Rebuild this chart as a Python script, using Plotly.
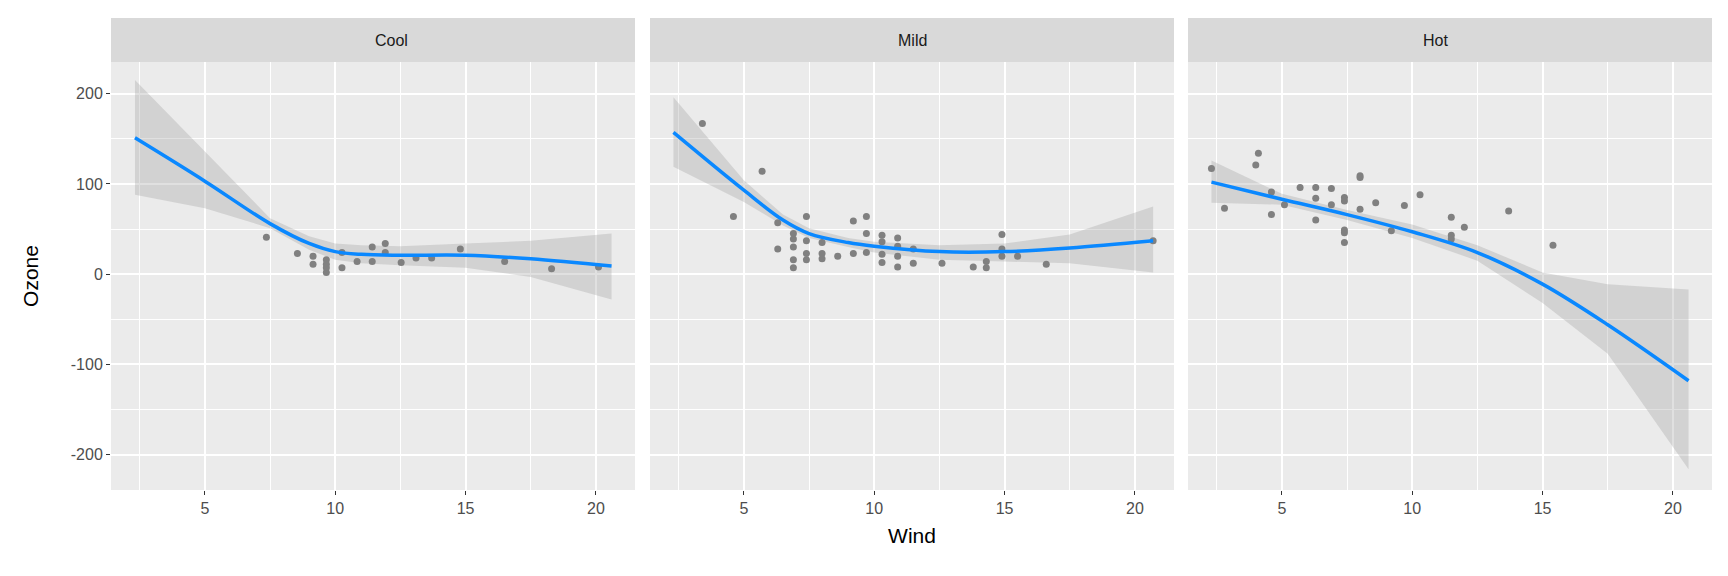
import plotly.graph_objects as go

panels = ["Cool", "Mild", "Hot"]

cool_wind = [7.36,8.55,9.15,9.15,9.66,9.66,9.66,9.66,10.26,10.26,10.84,11.42,11.42,11.92,11.92,12.53,13.1,13.7,14.8,16.5,18.3,20.1]
cool_ozone = [41,23,20,11,16,11,7,2,24,7,14,30,14,34,24,13,18,18,28,14,6,8]
mild_wind = [3.41,5.7,4.6,6.3,6.3,6.9,6.9,6.9,6.9,6.9,7.4,7.4,7.4,7.4,8.0,8.0,8.0,8.6,9.2,9.2,9.7,9.7,9.7,10.3,10.3,10.3,10.3,10.9,10.9,10.9,10.9,11.5,11.5,12.6,13.8,14.3,14.3,14.9,14.9,14.9,15.5,16.6,20.7]
mild_ozone = [167,114,64,57,28,45,39,30,16,7,64,37,23,16,35,23,17,20,59,23,64,45,24,43,36,22,13,40,31,20,8,28,12,12,8,14,7,44,28,20,20,11,37]
hot_wind = [2.3,2.8,4.0,4.1,4.6,4.6,5.1,5.7,6.3,6.3,6.3,6.9,6.9,7.4,7.4,7.4,7.4,7.4,8.0,8.0,8.0,8.6,9.2,9.7,10.3,11.5,11.5,11.5,12.0,13.7,15.4]
hot_ozone = [117,73,121,134,91,66,77,96,96,84,60,95,77,85,81,49,46,35,109,107,72,79,48,76,88,63,43,39,52,70,32]

cool_fit_x = [2.32,5,7.5,9,10,11,12.5,15,17.5,20.6]
cool_fit = [151,103,56,34,25,22,21,21,17,9]
cool_hi = [215,136,62,42,34,32,31,34,37,45]
cool_lo = [88,73,51,27,16,12,10,7,-3,-28]
mild_fit_x = [2.3,5,6.5,7.5,9,10,12.5,15,17.5,20.7]
mild_fit = [157,93,60,45,35,31,25,25,29,37]
mild_hi = [196,104,66,51,40,36,32,34,44,75]
mild_lo = [119,80,54,40,30,24,16,14,12,2]
hot_fit_x = [2.3,5,7.5,10,12.5,15,17.5,20.6]
hot_fit = [102,83,66,47,24,-11,-56,-118]
hot_hi = [126,89,71,55,32,2,-11,-17]
hot_lo = [79,77,60,40,15,-32,-88,-216]

x_ticks = [5,10,15,20]
y_ticks = [-200,-100,0,100,200]
y_labels = ["-200","-100","0","100","200"]

data = [
    (cool_wind, cool_ozone, cool_fit_x, cool_fit, cool_hi, cool_lo),
    (mild_wind, mild_ozone, mild_fit_x, mild_fit, mild_hi, mild_lo),
    (hot_wind, hot_ozone, hot_fit_x, hot_fit, hot_hi, hot_lo),
]

W, H = 1728, 576
ml, mr, mt, mb = 103, 24, 54, 94
pw = W - ml - mr
domains = [[0, 524/pw], [539/pw, 1063/pw], [1077/pw, 1]]
FONT = "Liberation Sans"

fig = go.Figure()
for i, (wx, oz, fx, fy, hi, lo) in enumerate(data):
    s = "" if i == 0 else str(i+1)
    xa, ya = "x"+s, "y"+s
    fig.add_trace(go.Scatter(x=fx+fx[::-1], y=hi+lo[::-1], fill="toself", mode="lines",
                             line=dict(width=0), fillcolor="rgba(153,153,153,0.3)",
                             xaxis=xa, yaxis=ya, showlegend=False, hoverinfo="skip"))
    fig.add_trace(go.Scatter(x=wx, y=oz, mode="markers", marker=dict(color="#808080", size=7),
                             xaxis=xa, yaxis=ya, showlegend=False))
    fig.add_trace(go.Scatter(x=fx, y=fy, mode="lines",
                             line=dict(color="#0a88ff", width=3.5, shape="spline", smoothing=1.0),
                             xaxis=xa, yaxis=ya, showlegend=False))
    axx = dict(domain=domains[i], range=[1.4, 21.5], tickvals=x_ticks, showgrid=True,
               gridcolor="white", gridwidth=1.6, zeroline=False, showline=False,
               ticks="outside", ticklen=4, tickcolor="#333333", tickwidth=1.2,
               tickfont=dict(family=FONT, size=16, color="#4d4d4d"),
               minor=dict(tickvals=[2.5,7.5,12.5,17.5], showgrid=True, gridcolor="white", gridwidth=0.8, ticks=""),
               anchor=ya)
    axy = dict(domain=[0, 1], range=[-239, 235], tickvals=y_ticks, ticktext=y_labels, showgrid=True,
               gridcolor="white", gridwidth=1.6, zeroline=False, showline=False,
               ticks="outside" if i == 0 else "", ticklen=4, tickcolor="#333333", tickwidth=1.2,
               showticklabels=(i == 0),
               tickfont=dict(family=FONT, size=16, color="#4d4d4d"),
               minor=dict(tickvals=[-150,-50,50,150], showgrid=True, gridcolor="white", gridwidth=0.8, ticks=""),
               anchor=xa)
    if i == 1:
        axx["title"] = dict(text="Wind", font=dict(family=FONT, size=21, color="black"), standoff=12)
    if i == 0:
        axy["title"] = dict(text="Ozone", font=dict(family=FONT, size=21, color="black"), standoff=26)
    fig.update_layout(**{"xaxis"+s: axx, "yaxis"+s: axy})
    fig.add_shape(type="rect", xref="paper", yref="paper", x0=domains[i][0], x1=domains[i][1],
                  y0=1, y1=1+44/(H-mt-mb), fillcolor="#d9d9d9", line=dict(width=0), layer="below")
    fig.add_shape(type="rect", xref=xa+" domain", yref=ya+" domain", x0=0, x1=1, y0=0, y1=1,
                  fillcolor="#ebebeb", line=dict(width=0), layer="below")
    fig.add_annotation(text=panels[i], xref="paper", yref="paper", x=(domains[i][0]+domains[i][1])/2,
                       y=1+22/(H-mt-mb), showarrow=False, yanchor="middle",
                       font=dict(family=FONT, size=16, color="#1a1a1a"))

fig.update_layout(width=W, height=H, margin=dict(l=ml, r=mr, t=mt, b=mb),
                  plot_bgcolor="#ebebeb", paper_bgcolor="white")
fig.write_html("out.html")
